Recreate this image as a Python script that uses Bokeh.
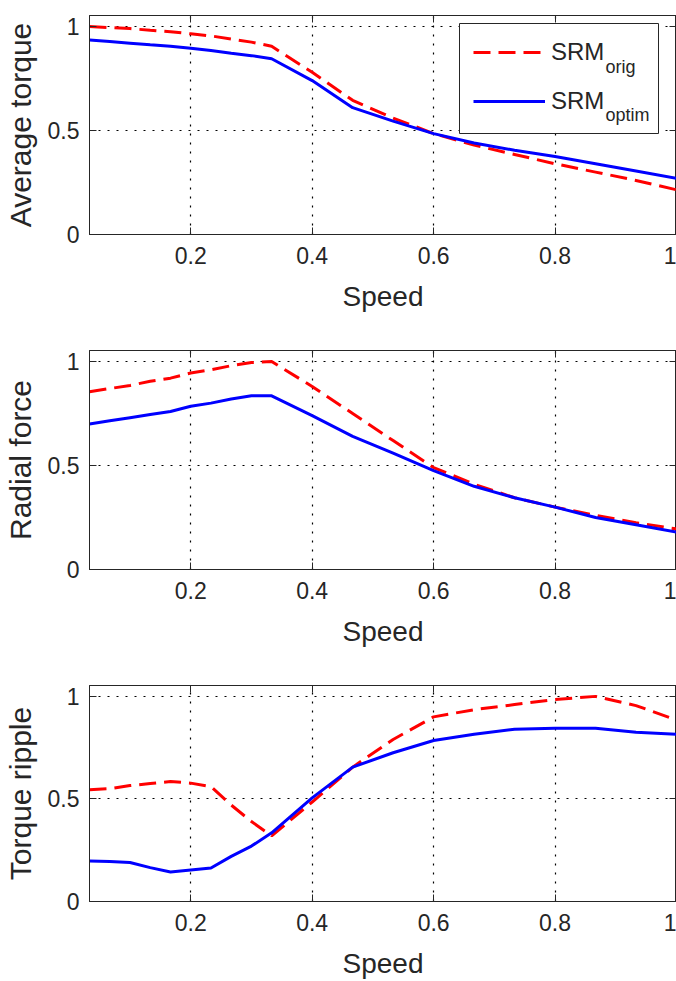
from bokeh.plotting import figure
from bokeh.layouts import column
from bokeh.models import (Range1d, FixedTicker, LinearAxis, Legend, LegendItem, Label,
                          BoxAnnotation)
from bokeh.embed import file_html
from bokeh.resources import INLINE

# ---------------- data ----------------
speed = [0.0333, 0.0667, 0.1, 0.1333, 0.1667, 0.2, 0.2333, 0.2667, 0.3, 0.3333,
         0.4, 0.4667, 0.5333, 0.6, 0.6667, 0.7333, 0.8, 0.8667, 0.9333, 1.0]

torque_orig = [1.0, 0.995, 0.99, 0.982, 0.975, 0.965, 0.955, 0.94, 0.925, 0.905,
               0.78, 0.645, 0.56, 0.485, 0.43, 0.385, 0.34, 0.30, 0.26, 0.215]
torque_optim = [0.935, 0.928, 0.92, 0.912, 0.905, 0.895, 0.885, 0.872, 0.86, 0.845,
                0.74, 0.61, 0.545, 0.485, 0.44, 0.405, 0.375, 0.34, 0.305, 0.27]

radial_orig = [0.855, 0.87, 0.885, 0.905, 0.92, 0.945, 0.96, 0.98, 0.995, 1.0,
               0.88, 0.75, 0.62, 0.49, 0.41, 0.345, 0.30, 0.26, 0.225, 0.195]
radial_optim = [0.70, 0.715, 0.73, 0.745, 0.76, 0.785, 0.80, 0.82, 0.835, 0.835,
                0.74, 0.64, 0.56, 0.475, 0.40, 0.345, 0.30, 0.25, 0.215, 0.18]

ripple_orig = [0.545, 0.55, 0.565, 0.575, 0.585, 0.577, 0.56, 0.47, 0.39, 0.32,
               0.485, 0.655, 0.79, 0.90, 0.935, 0.96, 0.985, 1.0, 0.955, 0.885]
ripple_optim = [0.197, 0.195, 0.19, 0.165, 0.144, 0.154, 0.163, 0.22, 0.27, 0.335,
                0.505, 0.655, 0.725, 0.785, 0.815, 0.84, 0.845, 0.845, 0.825, 0.815]

x_ticks = [0.2, 0.4, 0.6, 0.8, 1.0]
x_tick_labels = ["0.2", "0.4", "0.6", "0.8", "1"]
y_ticks = [0, 0.5, 1.0]
y_tick_labels = ["0", "0.5", "1"]
y_max = 1.053

x_label = "Speed"
y_labels = ["Average torque", "Radial force", "Torque ripple"]
legend_main = ["SRM", "SRM"]
legend_sub = ["orig", "optim"]

# ---------------- style ----------------
FONT = "Liberation Sans"
AX = "#262626"
RED = "#ff0000"
BLUE = "#0000ff"


def style_axis(ax, ticks, labels, show_labels=True):
    ax.ticker = FixedTicker(ticks=ticks)
    ax.axis_line_color = AX
    ax.axis_line_width = 1
    ax.major_tick_line_color = AX
    ax.major_tick_line_width = 1
    ax.major_tick_in = 7
    ax.major_tick_out = 0
    ax.minor_tick_line_color = None
    ax.major_label_text_font = FONT
    if show_labels:
        ax.major_label_overrides = {t: l for t, l in zip(ticks, labels)}
        ax.major_label_text_color = AX
        ax.major_label_text_font_size = "23px"
    else:
        ax.major_label_text_color = None
        ax.major_label_text_font_size = "1px"
        ax.major_label_standoff = 0


def make(ylab, orig, optim, height, top, bottom, with_legend=False):
    p = figure(width=676, height=height, output_backend="svg", toolbar_location=None,
               x_range=Range1d(speed[0], speed[-1]), y_range=Range1d(0, y_max),
               min_border_left=89, min_border_right=0,
               min_border_top=top, min_border_bottom=bottom)
    p.outline_line_color = AX
    p.outline_line_width = 1
    p.background_fill_color = "white"
    p.border_fill_color = "white"

    style_axis(p.xaxis[0], x_ticks, x_tick_labels)
    style_axis(p.yaxis[0], y_ticks, y_tick_labels)
    p.xaxis.major_label_standoff = 12
    p.yaxis.major_label_standoff = 10
    p.xaxis.axis_label = x_label
    p.yaxis.axis_label = ylab
    for ax, size, so in ((p.xaxis[0], "28px", 14), (p.yaxis[0], "30px", 8)):
        ax.axis_label_text_font = FONT
        ax.axis_label_text_font_size = size
        ax.axis_label_text_font_style = "normal"
        ax.axis_label_text_color = AX
        ax.axis_label_standoff = so

    top_ax = LinearAxis()
    style_axis(top_ax, x_ticks, x_tick_labels, show_labels=False)
    p.add_layout(top_ax, "above")
    right_ax = LinearAxis()
    style_axis(right_ax, y_ticks, y_tick_labels, show_labels=False)
    p.add_layout(right_ax, "right")

    for g in (p.xgrid[0], p.ygrid[0]):
        g.grid_line_color = "black"
        g.grid_line_dash = "2 7"
        g.grid_line_width = 1.2
    p.xgrid.ticker = FixedTicker(ticks=x_ticks)
    p.ygrid.ticker = FixedTicker(ticks=y_ticks)

    r1 = p.line(speed, orig, line_color=RED, line_width=3, line_dash="17 8")
    r2 = p.line(speed, optim, line_color=BLUE, line_width=3)

    if with_legend:
        # legend frame (white box with dark border), in screen units from the frame corner
        p.add_layout(BoxAnnotation(left=370, right=569, bottom=101, top=211,
                                   left_units="screen", right_units="screen",
                                   bottom_units="screen", top_units="screen",
                                   fill_color="white", fill_alpha=1,
                                   line_color=AX, line_width=1, line_alpha=1))
        leg = Legend(items=[LegendItem(label=legend_main[0], renderers=[r1]),
                            LegendItem(label=legend_main[1], renderers=[r2])],
                     location=(384, 118), orientation="vertical",
                     border_line_color=None, background_fill_alpha=0,
                     label_text_font=FONT, label_text_font_size="24px",
                     label_text_color=AX,
                     glyph_width=72, glyph_height=30, label_height=30,
                     label_width=95, label_standoff=6, padding=0, spacing=19,
                     margin=0)
        p.add_layout(leg, "center")
        for txt, yy in zip(legend_sub, (168, 120)):
            p.add_layout(Label(x=516, y=yy, x_units="screen", y_units="screen",
                               text=txt, text_font=FONT, text_font_size="18px",
                               text_color=AX, text_baseline="alphabetic",
                               level="overlay"))
    return p


p1 = make(y_labels[0], torque_orig, torque_optim, 341, 15, 107, with_legend=True)
p2 = make(y_labels[1], radial_orig, radial_optim, 333, 9, 105)
p3 = make(y_labels[2], ripple_orig, ripple_optim, 307, 11, 77)

layout = column(p1, p2, p3, spacing=0)
open("out.html", "w").write(file_html(layout, INLINE))
